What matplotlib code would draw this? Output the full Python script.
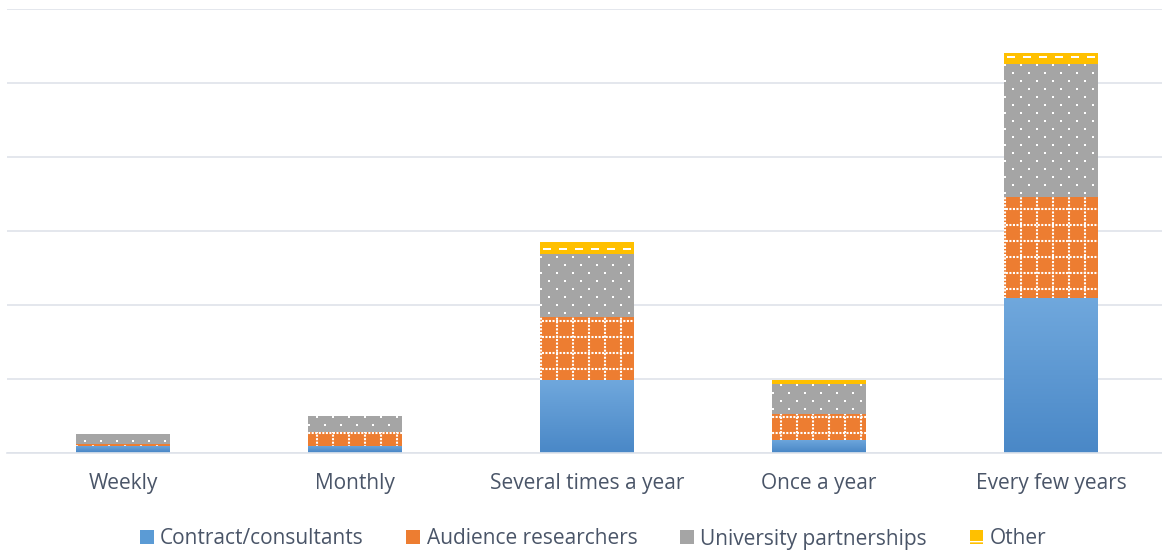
import numpy as np
import matplotlib.pyplot as plt
from matplotlib.patches import Patch
from matplotlib.collections import LineCollection
from matplotlib.colors import LinearSegmentedColormap
from matplotlib.transforms import IdentityTransform

categories = ['Weekly', 'Monthly', 'Several times a year', 'Once a year', 'Every few years']
contract = [0.85, 0.85, 9.8, 1.75, 20.9]
audience = [0.35, 1.9, 8.5, 3.5, 13.6]
university = [1.25, 2.15, 8.55, 4.05, 18.0]
other = [0, 0, 1.6, 0.55, 1.6]
series_names = ['Contract/consultants', 'Audience researchers', 'University partnerships', 'Other']

blue = '#5b9bd5'
orange = '#ed7d31'
grey = '#a5a5a5'
yellow = '#ffc000'
gridColor = '#dfe3ea'
textColor = '#4a5568'

plt.rcParams['font.family'] = ['Open Sans', 'DejaVu Sans']

W, H = 1162, 550
fig = plt.figure(figsize=(W / 100, H / 100), dpi=100)
ax = fig.add_axes([7 / W, 97.5 / H, 1160 / W, 443.5 / H])
ax.set_xlim(-0.5, 4.5)
ax.set_ylim(0, 60)

x = np.arange(len(categories))
bw = 0.405
b1 = np.array(contract)
b2 = b1 + np.array(audience)
b3 = b2 + np.array(university)

barsC = ax.bar(x, contract, bw, color=blue, zorder=2)
barsA = ax.bar(x, audience, bw, bottom=b1, color=orange, zorder=2)
barsU = ax.bar(x, university, bw, bottom=b2, color=grey, zorder=2)
barsO = ax.bar(x, other, bw, bottom=b3, color=yellow, zorder=2)

# gradient on blue bars
grad = np.linspace(0, 1, 256).reshape(-1, 1)
cmapB = LinearSegmentedColormap.from_list('b', ['#4a88c7', '#70a8dd'])
for bar in barsC:
    x0, y0 = bar.get_x(), bar.get_y()
    im = ax.imshow(grad, cmap=cmapB, extent=(x0, x0 + bar.get_width(), y0, y0 + bar.get_height()),
                   origin='lower', aspect='auto', zorder=2.5)
    im.set_clip_path(bar)

ident = IdentityTransform()

# dotted white grid on orange bars (pattern anchored to pixel grid)
vx = np.arange(12.7, W, 16)
hy = np.arange(0.7, H, 16)
for bar in barsA:
    segs = [[(xx, 0), (xx, H)] for xx in vx] + [[(0, H - yy), (W, H - yy)] for yy in hy]
    lc = LineCollection(segs, colors='white', linewidths=1.5, linestyles=[(0, (1, 0.7))],
                        transform=ident, zorder=3)
    ax.add_collection(lc, autolim=False)
    lc.set_clip_path(bar)

# white dots on grey bars
px, py = [], []
for j, yy in enumerate(np.arange(0.7, H, 8)):
    start = 12.7 if j % 2 == 0 else 4.7
    for xx in np.arange(start, W, 16):
        px.append(xx)
        py.append(H - yy)
for bar in barsU:
    sc = ax.scatter(px, py, s=3.2, marker='s', color='white', linewidths=0,
                    transform=ident, zorder=3)
    sc.set_clip_path(bar)

# dashed white lines on yellow bars
dy = np.arange(1, H, 8)
for bar in barsO:
    segs = [[(-12, H - yy), (W, H - yy)] for yy in dy]
    lc = LineCollection(segs, colors='white', linewidths=1.44, linestyles=[(0, (4, 4))],
                        transform=ident, zorder=3)
    ax.add_collection(lc, autolim=False)
    lc.set_clip_path(bar)

ax.set_yticks(np.arange(0, 61, 10))
ax.yaxis.grid(True, color=gridColor, linewidth=1.2)
ax.set_axisbelow(True)
ax.tick_params(axis='y', length=0, labelleft=False)
ax.tick_params(axis='x', length=0, pad=15, labelsize=15, labelcolor=textColor)
ax.set_xticks(x)
ax.set_xticklabels(categories)
for s in ['top', 'right', 'left']:
    ax.spines[s].set_visible(False)
ax.spines['bottom'].set_color(gridColor)
ax.spines['bottom'].set_linewidth(1.2)
ax.set_xlim(-0.5, 4.5)
ax.set_ylim(0, 60)

handles = [
    Patch(facecolor=blue, edgecolor='none'),
    Patch(facecolor=orange, edgecolor='none'),
    Patch(facecolor=grey, edgecolor='none'),
    Patch(facecolor=yellow, edgecolor='white', linewidth=0, hatch='-'),
]
leg = fig.legend(handles, series_names, loc='center', bbox_to_anchor=(593 / W, 1 - 539 / H),
                 ncol=4, frameon=False, fontsize=15, handlelength=0.67, handleheight=0.67,
                 handletextpad=0.3, columnspacing=2.05)
for t in leg.get_texts():
    t.set_color(textColor)

fig.savefig('out.png', dpi=100)
